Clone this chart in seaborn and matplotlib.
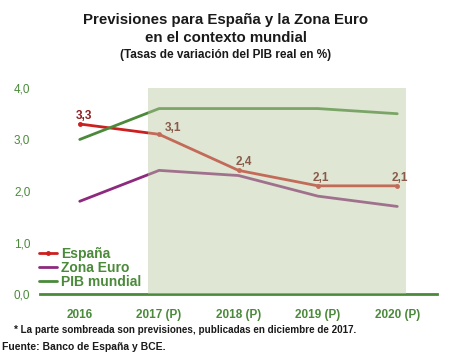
import matplotlib
matplotlib.use("Agg")
import matplotlib.pyplot as plt
import seaborn as sns
import pandas as pd

years = ["2016", "2017 (P)", "2018 (P)", "2019 (P)", "2020 (P)"]
espana = [3.3, 3.1, 2.4, 2.1, 2.1]
zona_euro = [1.8, 2.4, 2.3, 1.9, 1.7]
pib_mundial = [3.0, 3.6, 3.6, 3.6, 3.5]
y_ticks = [0, 1, 2, 3, 4]

GREEN = "#4a8a3a"
RED = "#cc1f1f"
PURPLE = "#8e2a7e"

sns.set_theme(style="white")
plt.rcParams["font.family"] = ["Liberation Sans", "DejaVu Sans"]

df = pd.DataFrame({"x": range(len(years)), "espana": espana,
                   "euro": zona_euro, "mundo": pib_mundial})

fig = plt.figure(figsize=(4.5, 3.59), dpi=100)
ax = fig.add_axes([0.089, 0.181, 0.882, 0.574])

sns.lineplot(data=df, x="x", y="espana", color=RED, lw=2, marker="o",
             markersize=3.5, markeredgewidth=0, label="España", ax=ax, zorder=2)
sns.lineplot(data=df, x="x", y="euro", color=PURPLE, lw=2,
             label="Zona Euro", ax=ax, zorder=2)
sns.lineplot(data=df, x="x", y="mundo", color=GREEN, lw=2,
             label="PIB mundial", ax=ax, zorder=2)

# shaded forecast region drawn over the lines
ax.axvspan(0.86, 4.11, color="#b8c8a0", alpha=0.45, lw=0, zorder=3)

# data labels for Spain
label_pos = {0: (-3, 1.5), 1: (4, 0), 2: (-2, 1.5), 3: (-4, 1.5), 4: (-4, 1.5)}
for i, v in enumerate(espana):
    dx, dy = label_pos[i]
    col = "#8b1e1e" if i == 0 else "#8a5a48"
    ax.annotate(f"{v:.1f}".replace(".", ","), (i, v), xytext=(dx, dy),
                textcoords="offset points", ha="left", va="bottom",
                fontsize=8.5, fontweight="bold", color=col, zorder=5)

ax.set_xlim(-0.5, 4.5)
ax.set_ylim(0, 4.0)
ax.set_xticks(range(len(years)))
ax.set_xticklabels(years, fontsize=8.5, fontweight="bold", color=GREEN)
ax.set_yticks(y_ticks)
ax.set_yticklabels([f"{t:.1f}".replace(".", ",") for t in y_ticks],
                   fontsize=8.5, color=GREEN)
ax.tick_params(axis="x", length=0, pad=11)
ax.tick_params(axis="y", length=0, pad=7)
ax.set_xlabel("")
ax.set_ylabel("")
for s in ["top", "right", "left"]:
    ax.spines[s].set_visible(False)
ax.spines["bottom"].set_color(GREEN)
ax.spines["bottom"].set_linewidth(2)

leg = ax.legend(loc="lower left", bbox_to_anchor=(-0.02, -0.01), frameon=False,
                borderpad=0, handlelength=1.3, handletextpad=0.3,
                labelspacing=0.02, prop={"size": 10, "weight": "bold"})
for t in leg.get_texts():
    t.set_color(GREEN)

title_font = dict(ha="center", va="center", fontweight="bold", color="#1a1a1a")
fig.text(0.502, 0.945, "Previsiones para España y la Zona Euro",
         fontsize=10.8, **title_font)
fig.text(0.502, 0.895, "en el contexto mundial", fontsize=10.8, **title_font)
fig.text(0.502, 0.848, "(Tasas de variación del PIB real en %)",
         fontsize=8.5, **title_font)
fig.text(0.03, 0.08, "* La parte sombreada son previsiones, publicadas en diciembre de 2017.",
         ha="left", va="center", fontsize=7.1, fontweight="bold", color="#1a1a1a")
fig.text(0.005, 0.033, "Fuente: Banco de España y BCE.",
         ha="left", va="center", fontsize=7.5, fontweight="bold", color="#1a1a1a")

fig.savefig("out.png", dpi=100)
